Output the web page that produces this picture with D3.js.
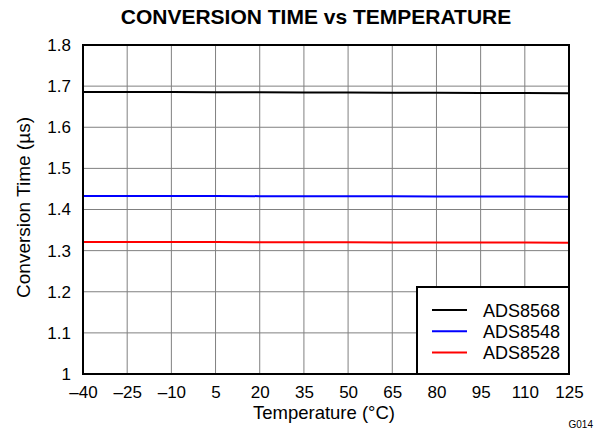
<!DOCTYPE html>
<html>
<head>
<meta charset="utf-8">
<script src="https://cdn.jsdelivr.net/npm/d3@7"></script>
<style>
  body { margin: 0; background: #fff; }
  text { font-family: 'Liberation Sans', Arial, sans-serif; }
</style>
</head>
<body>
<div id="chart"></div>
<script>
const margin = { top: 45, right: 31, bottom: 58, left: 83 }
const width = 600 - margin.left - margin.right
const height = 432 - margin.top - margin.bottom

// data
const temps = [-40, -25, -10, 5, 20, 35, 50, 65, 80, 95, 110, 125]
const ads8568 = [1.686, 1.686, 1.6857, 1.6853, 1.685, 1.6847, 1.6843, 1.684, 1.6837, 1.6833, 1.683, 1.6825]
const ads8548 = [1.433, 1.433, 1.4328, 1.4327, 1.4325, 1.4323, 1.4322, 1.432, 1.4318, 1.4317, 1.4315, 1.4313]
const ads8528 = [1.321, 1.321, 1.3208, 1.3207, 1.3205, 1.3203, 1.3202, 1.32, 1.3198, 1.3197, 1.3195, 1.3193]
const seriesNames = ['ADS8568', 'ADS8548', 'ADS8528']
const seriesColors = ['#000000', '#0000ff', '#ff0000']
const xTicks = temps
const yTicks = [1, 1.1, 1.2, 1.3, 1.4, 1.5, 1.6, 1.7, 1.8]

const series = [ads8568, ads8548, ads8528]

const svg = d3
  .select('#chart')
  .append('svg')
  .attr('width', 600)
  .attr('height', 432)

const g = svg
  .append('g')
  .attr('transform', 'translate(' + margin.left + ',' + margin.top + ')')

const x = d3.scaleLinear().domain([-40, 125]).range([0, width])
const y = d3.scaleLinear().domain([1, 1.8]).range([height, 0])

// grid
g.append('g')
  .selectAll('line')
  .data(xTicks)
  .enter()
  .append('line')
  .attr('x1', d => x(d))
  .attr('x2', d => x(d))
  .attr('y1', 0)
  .attr('y2', height)
  .attr('stroke', '#808080')
  .attr('stroke-width', 1)

g.append('g')
  .selectAll('line')
  .data(yTicks)
  .enter()
  .append('line')
  .attr('x1', 0)
  .attr('x2', width)
  .attr('y1', d => y(d))
  .attr('y2', d => y(d))
  .attr('stroke', '#808080')
  .attr('stroke-width', 1)

// tick labels
const xAxis = d3
  .axisBottom(x)
  .tickValues(xTicks)
  .tickSize(0)
  .tickPadding(12)
  .tickFormat(d => String(d).replace('-', '\u2013'))

g.append('g')
  .attr('transform', 'translate(0,' + height + ')')
  .call(xAxis)
  .call(s => s.select('.domain').remove())
  .selectAll('text')
  .attr('font-size', 17)
  .attr('fill', '#000')
  .style('font-family', "'Liberation Sans', Arial, sans-serif")

const yAxis = d3
  .axisLeft(y)
  .tickValues(yTicks)
  .tickSize(0)
  .tickPadding(12)
  .tickFormat(d => (d === 1 ? '1' : d3.format('.1f')(d)))

g.append('g')
  .call(yAxis)
  .call(s => s.select('.domain').remove())
  .selectAll('text')
  .attr('font-size', 17)
  .attr('fill', '#000')
  .style('font-family', "'Liberation Sans', Arial, sans-serif")

// lines
const line = d3
  .line()
  .x((d, i) => x(temps[i]))
  .y(d => y(d))

g.selectAll('.series')
  .data(series)
  .enter()
  .append('path')
  .attr('class', 'series')
  .attr('d', d => line(d))
  .attr('fill', 'none')
  .attr('stroke', (d, i) => seriesColors[i])
  .attr('stroke-width', 2)

// frame
g.append('rect')
  .attr('x', 0)
  .attr('y', 0)
  .attr('width', width)
  .attr('height', height)
  .attr('fill', 'none')
  .attr('stroke', '#000')
  .attr('stroke-width', 2)

// legend
const legend = g.append('g').attr('transform', 'translate(' + (width - 152) + ',' + (height - 87) + ')')

legend
  .append('rect')
  .attr('width', 152)
  .attr('height', 87)
  .attr('fill', '#fff')
  .attr('stroke', '#000')
  .attr('stroke-width', 2)

seriesNames.forEach((name, i) => {
  const ly = 23 + i * 21.3
  legend
    .append('line')
    .attr('x1', 15)
    .attr('x2', 50)
    .attr('y1', ly)
    .attr('y2', ly)
    .attr('stroke', seriesColors[i])
    .attr('stroke-width', 2)
  legend
    .append('text')
    .text(name)
    .attr('x', 66)
    .attr('y', ly + 6.5)
    .attr('font-size', 18)
})

// titles
svg
  .append('text')
  .text('CONVERSION TIME vs TEMPERATURE')
  .attr('x', 316)
  .attr('y', 23.5)
  .attr('text-anchor', 'middle')
  .attr('font-size', 21)
  .attr('font-weight', 'bold')

svg
  .append('text')
  .text('Temperature (\u00B0C)')
  .attr('x', 324)
  .attr('y', 419)
  .attr('text-anchor', 'middle')
  .attr('font-size', 18.5)

svg
  .append('text')
  .text('Conversion Time (\u00B5s)')
  .attr('transform', 'translate(30,207.5) rotate(-90)')
  .attr('text-anchor', 'middle')
  .attr('font-size', 19)

svg
  .append('text')
  .text('G014')
  .attr('x', 593)
  .attr('y', 428)
  .attr('text-anchor', 'end')
  .attr('font-size', 10)
</script>
</body>
</html>
